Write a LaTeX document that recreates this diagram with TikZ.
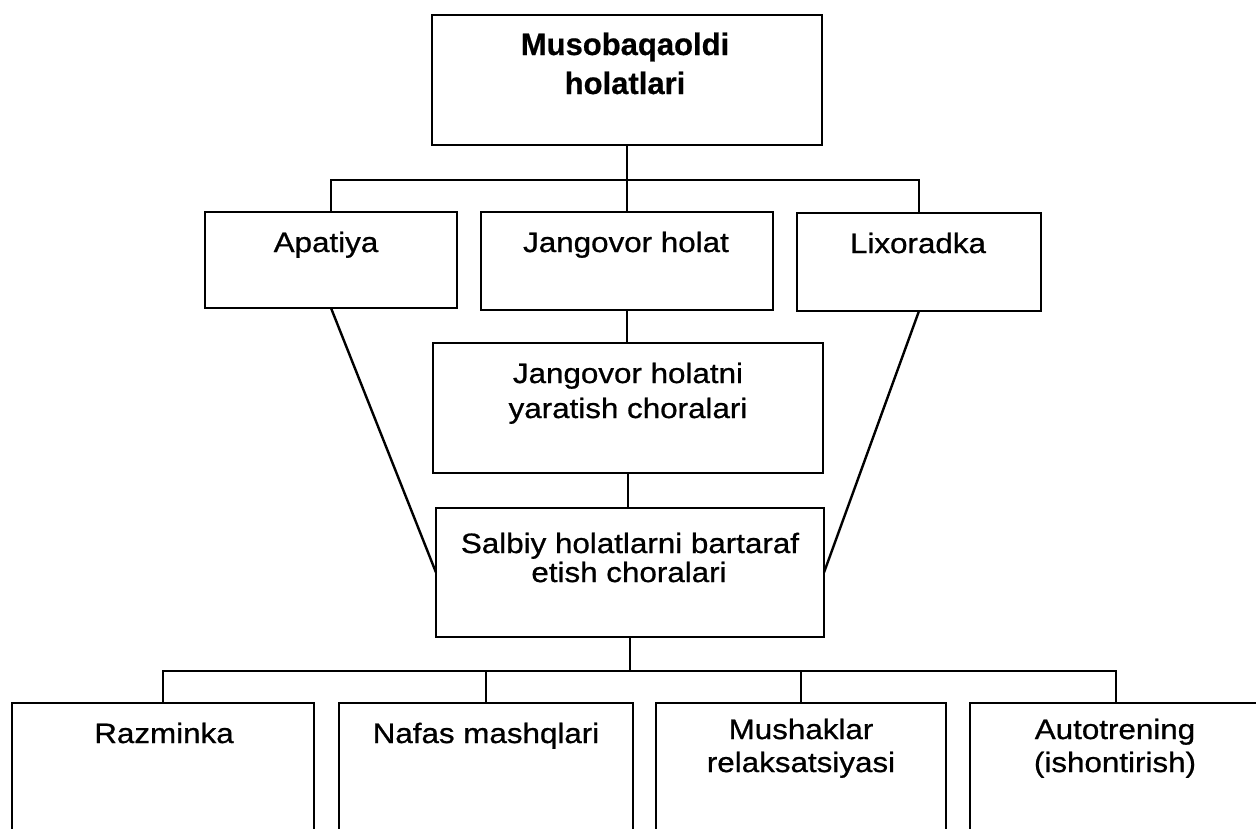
\documentclass[tikz,border=0pt]{standalone}
\usepackage{fontspec}
\setmainfont{Liberation Sans}
\newfontfamily\regfont[FakeStretch=1.12,FakeBold=0.8]{Liberation Sans}
\newfontfamily\headfont[FakeBold=0.6]{Liberation Sans}
\begin{document}
\begin{tikzpicture}[x=1pt,y=-1pt,
  box/.style={draw, line width=2.4pt, inner sep=0pt, outer sep=0pt},
  conn/.style={line width=2.4pt},
  lbl/.style={anchor=base, inner sep=0pt, font=\regfont\fontsize{28}{33}\selectfont},
  head/.style={anchor=base, inner sep=0pt, font=\headfont\bfseries\fontsize{31}{39}\selectfont}]
\useasboundingbox (0,0) rectangle (1256,828);
\clip (0,0) rectangle (1256,828);
\fill[white] (0,0) rectangle (1256,828);
% boxes
\node[box, minimum width=390pt, minimum height=130pt] (top) at (627,80) {};
\node[box, minimum width=252pt, minimum height=96pt] (apa) at (331,260) {};
\node[box, minimum width=292pt, minimum height=98pt] (jang) at (627,261) {};
\node[box, minimum width=244pt, minimum height=98pt] (lix) at (919,262) {};
\node[box, minimum width=390pt, minimum height=130pt] (yar) at (628,408) {};
\node[box, minimum width=388pt, minimum height=129pt] (sal) at (630,572.5) {};
\node[box, minimum width=302pt, minimum height=147pt] (raz) at (163,776.5) {};
\node[box, minimum width=294pt, minimum height=147pt] (naf) at (486,776.5) {};
\node[box, minimum width=290pt, minimum height=147pt] (mus) at (801,776.5) {};
\node[box, minimum width=292pt, minimum height=147pt] (aut) at (1116,776.5) {};
% texts
\node[head] (t1) at (625,55) {Musobaqaoldi};
\node[head] (t2) at (625,94) {holatlari};
\node[lbl] (t3) at (326,252) {Apatiya};
\node[lbl] (t4) at (626,252) {Jangovor holat};
\node[lbl] (t5) at (918,253) {Lixoradka};
\node[lbl] (t6) at (628,383) {Jangovor holatni};
\node[lbl] (t7) at (628,418) {yaratish choralari};
\node[lbl] (t8) at (630,553) {Salbiy holatlarni bartaraf};
\node[lbl] (t9) at (629,582) {etish choralari};
\node[lbl] (t10) at (164,743) {Razminka};
\node[lbl] (t11) at (486,743) {Nafas mashqlari};
\node[lbl] (t12) at (801,739) {Mushaklar};
\node[lbl] (t13) at (801,772) {relaksatsiyasi};
\node[lbl] (t14) at (1115,739) {Autotrening};
\node[lbl] (t15) at (1115,772) {(ishontirish)};
% connectors
\coordinate (bus1) at (627,180);
\coordinate (bus2) at (630,671);
\draw[conn] (top.south) -- (jang.north);
\draw[conn] (apa.north) -- (apa.north |- bus1) -- (lix.north |- bus1) -- (lix.north);
\draw[conn] (jang.south) -- (jang.south |- yar.north);
\draw[conn] (yar.south) -- (yar.south |- sal.north);
\draw[conn] (apa.south) -- (sal.west);
\draw[conn] (lix.south) -- (sal.east);
\draw[conn] (sal.south) -- (bus2);
\draw[conn] (raz.north) -- (raz.north |- bus2) -- (aut.north |- bus2) -- (aut.north);
\draw[conn] (naf.north) -- (naf.north |- bus2);
\draw[conn] (mus.north) -- (mus.north |- bus2);
\end{tikzpicture}
\end{document}
